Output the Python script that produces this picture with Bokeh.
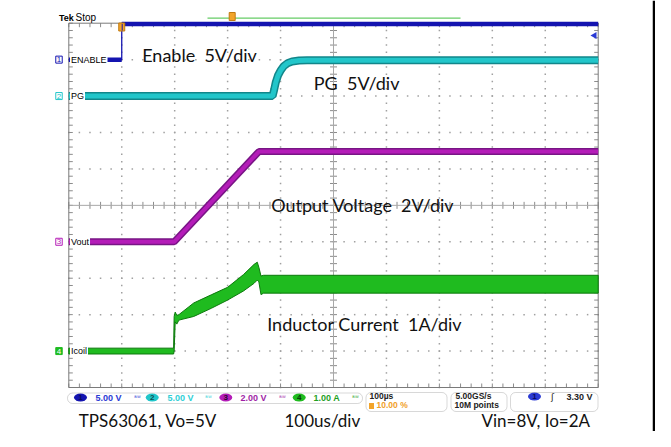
import numpy as np
from bokeh.plotting import figure
from bokeh.models import Range1d, Label, BoxAnnotation
from bokeh.core.properties import value
from bokeh.embed import file_html
from bokeh.resources import INLINE

# ---------------- data ----------------
channels = ["1", "2", "3", "4"]
ch_labels = ["ENABLE", "PG", "Vout", "Icoil"]
ch_scale = [5.0, 5.0, 2.0, 1.0]          # units per division
ch_unit = ["V", "V", "V", "A"]
ch_offset = [4.0, 3.0, -1.0, -4.0]       # ground marker, divisions from centre
ch_color = ["#1414b0", "#22c6ca", "#b41cb8", "#1fbb1f"]
ch_dark = ["#0a0a80", "#12868a", "#781585", "#0c780c"]
ch_text = ["#2a3ad4", "#30cfd6", "#a01fa6", "#1f9f1f"]

time_per_div_us = 100
trigger_pos_pct = 10.0
trigger_level_v = 3.30
timebase_txt = "100\u00b5s"
sample_rate = "5.00GS/s"
record_len = "10M points"

enable_t = [-100, 0, 0, 900]
enable_v = [0.0, 0.0, 4.9, 4.9]

pg_t = [-100, 285, 288, 291, 295, 300, 306, 313, 322, 335, 350, 900]
pg_v = [0.0, 0.0, 0.9, 1.9, 2.8, 3.5, 4.1, 4.5, 4.75, 4.88, 4.92, 4.92]

vout_t = [-100, 99, 259, 900]
vout_v = [0.0, 0.0, 4.95, 4.95]

il_t = [-100, 98, 99, 101, 104, 108, 136, 170, 200, 230, 250, 256, 259, 263, 268, 900]
il_hi = [0.08, 0.08, 0.95, 1.07, 0.98, 1.00, 1.32, 1.55, 1.75, 2.10, 2.38, 2.44, 2.30, 2.06, 2.08, 2.08]
il_lo = [-0.08, -0.08, 0.0, 0.80, 0.74, 0.85, 0.95, 1.18, 1.40, 1.65, 1.86, 1.95, 1.90, 1.55, 1.59, 1.59]

annotations = ["Enable\u00a0\u00a05V/div", "PG\u00a0\u00a05V/div", "Output Voltage\u00a0\u00a02V/div",
               "Inductor Current\u00a0\u00a01A/div"]
captions = ["TPS63061, Vo=5V", "100us/div", "Vin=8V, Io=2A"]

# ---------------- layout ----------------
W, H, M = 655, 431, 0
SL, SR, ST, SB = 68.3, 597.7, 22.7, 387.0
NX, NY, SUB = 10, 10, 5
dx = (SR - SL) / NX
dy = (SB - ST) / NY
yc = (ST + SB) / 2
t_left = -trigger_pos_pct / 100 * NX * time_per_div_us
t_right = t_left + NX * time_per_div_us
t_mid = (t_left + t_right) / 2


def X(px):
    return t_left + (px - SL) / dx * time_per_div_us


def Y(py):
    return (yc - py) / dy


def DX(n):
    return n / dx * time_per_div_us


def DY(n):
    return n / dy


p = figure(width=W, height=H, x_range=Range1d(X(M), X(M + W)), y_range=Range1d(Y(M + H), Y(M)),
           output_backend="svg", toolbar_location=None, x_axis_type=None, y_axis_type=None,
           min_border=0, outline_line_color=None)
p.background_fill_color = "white"
p.border_fill_color = "white"

# grid dots
dots_x, dots_y = [], []
for k in range(1, NX):
    if k == NX // 2:
        continue
    for j in range(NY * SUB + 1):
        dots_x.append(t_left + k * time_per_div_us)
        dots_y.append(-NY / 2 + j / SUB)
for k in range(1, NY):
    if k == NY // 2:
        continue
    for j in range(NX * SUB + 1):
        dots_x.append(t_left + j / SUB * time_per_div_us)
        dots_y.append(-NY / 2 + k)
p.scatter(dots_x, dots_y, marker="square", size=1.5, fill_color="#a0a0a0", line_color=None)

# ticks (frame edges + centre cross)
x0, y0, x1, y1 = [], [], [], []
for j in range(NY * SUB + 1):
    yy = -NY / 2 + j / SUB
    x0 += [t_left, t_right, t_mid - DX(3.5)]
    x1 += [t_left + DX(4), t_right - DX(4), t_mid + DX(3.5)]
    y0 += [yy, yy, yy]
    y1 += [yy, yy, yy]
for j in range(NX * SUB + 1):
    xx = t_left + j / SUB * time_per_div_us
    x0 += [xx, xx, xx]
    x1 += [xx, xx, xx]
    y0 += [-NY / 2, NY / 2, -DY(3.5)]
    y1 += [-NY / 2 + DY(4), NY / 2 - DY(4), DY(3.5)]
p.segment(x0, y0, x1, y1, line_color="#8c8c8c", line_width=1)
p.segment([t_mid, t_left], [-NY / 2, 0], [t_mid, t_right], [NY / 2, 0], line_color="#a8a8a8", line_width=1)
p.quad(left=[t_left], right=[t_right], bottom=[-NY / 2], top=[NY / 2], fill_color=None,
       line_color="#7a7a7a", line_width=1)


def to_div(vals, ch):
    return [ch_offset[ch] + v / ch_scale[ch] for v in vals]


def split_edges(t, y):
    xs, ys = [], []
    for i in range(len(t)):
        if i > 0 and t[i] == t[i - 1]:
            xs.append(np.nan)
            ys.append(np.nan)
        xs.append(t[i])
        ys.append(y[i])
    return xs, ys


# Ch1 enable
ey = to_div(enable_v, 0)
p.line(enable_t, ey, line_color=ch_color[0], line_width=1.3)
sx, sy = split_edges(enable_t, ey)
p.line(sx, sy, line_color=ch_color[0], line_width=4.5)

# Ch2 PG
py_ = to_div(pg_v, 1)
p.line(pg_t, py_, line_color=ch_dark[1], line_width=8)
p.line(pg_t, py_, line_color=ch_color[1], line_width=5)

# Ch3 Vout
vy = to_div(vout_v, 2)
p.line(vout_t, vy, line_color=ch_dark[2], line_width=7)
p.line(vout_t, vy, line_color=ch_color[2], line_width=4)

# Ch4 inductor current band
hi = to_div(il_hi, 3)
lo = to_div(il_lo, 3)
p.patch(il_t + il_t[::-1], hi + lo[::-1], fill_color=ch_color[3], line_color=ch_dark[3], line_width=1)

# trigger level arrow and trigger position markers
p.scatter([X(594)], [ch_offset[0] + trigger_level_v / ch_scale[0]], marker="triangle", angle=np.pi / 2,
          size=7, fill_color="#2a3ad4", line_color=None)
p.segment([X(207)], [Y(17.7)], [X(460)], [Y(17.7)], line_color="#66cc66", line_width=1.2)
p.rect([X(231.7), 0], [Y(16), Y(26.5)], width=6, height=8, width_units="screen", height_units="screen",
       fill_color="#f2a42a", line_color="#c07a10")
p.segment([X(121.7)], [Y(30)], [X(121.7)], [ch_offset[0] + enable_v[-1] / ch_scale[0]],
          line_color=ch_color[0], line_width=1)

MID = dict(text_baseline="middle")

# in-plot annotations
p.text([X(141.7), X(313.3), X(270.7), X(266.7)], [Y(54.7), Y(82.8), Y(204), Y(323.5)], text=annotations,
       text_font=value("Lato"), text_font_size="18px", text_color="#111111", **MID)

# channel markers
for i in range(4):
    filled = i == 3
    p.add_layout(Label(x=X(58.5), y=ch_offset[i], text=channels[i], text_font="Liberation Sans",
                       text_font_size="8px", text_baseline="middle", text_align="center",
                       text_color="white" if filled else ch_color[i],
                       background_fill_color=ch_color[i] if filled else "white",
                       border_line_color=ch_color[i], padding=1))
    p.add_layout(Label(x=X(69.5), y=ch_offset[i], text=ch_labels[i], text_font="Liberation Sans",
                       text_font_size="9px", text_baseline="middle", text_align="left", text_color="black",
                       background_fill_color="white", padding=1))

# Tek Stop
p.text([X(58.5)], [Y(17.2)], text=["Tek"], text_font=value("Liberation Sans"), text_font_style="bold",
       text_font_size="9px", **MID)
p.text([X(75)], [Y(17.2)], text=["Stop"], text_font=value("Liberation Sans"),
       text_font_size="10px", **MID)

# status bar boxes
for (l, r, t, b) in [(67, 362, 392.5, 403), (365.5, 446.5, 392, 411), (450.5, 506.5, 392, 411),
                     (510, 597.5, 392, 411)]:
    p.add_layout(BoxAnnotation(left=X(l), right=X(r), top=Y(t), bottom=Y(b), fill_alpha=0,
                               line_color="#7f7f7f", line_width=1, border_radius=5))

ell_x = [X(80), X(151.7), X(225.3), X(298.7), X(534)]
ell_y = [Y(397)] * 4 + [Y(396)]
p.ellipse(ell_x, ell_y, width=13, height=8, width_units="screen", height_units="screen",
          fill_color=ch_color + [ch_text[0]], line_color=None)
p.text(ell_x, ell_y, text=channels + ["1"], text_font=value("Liberation Sans"), text_font_style="bold",
       text_font_size="8px", text_align="center", text_baseline="middle",
       text_color=["#0a0a60", "#0c4f52", "#2a0530", "#063806", "#0a0a60"])

vals = [f"{ch_scale[i]:.2f} {ch_unit[i]}" for i in range(4)]
p.text([X(95), X(167), X(240), X(313)], [Y(397)] * 4, text=vals, text_font=value("Liberation Sans"),
       text_font_style="bold", text_font_size="9px", text_color=ch_text, **MID)
p.text([X(137), X(208), X(282), X(355)], [Y(397)] * 4, text=["\u1d2e\u1d42"] * 4,
       text_font=value("DejaVu Sans"), text_font_size="6px", text_align="center",
       text_color=ch_text, **MID)

p.text([X(369)], [Y(395.8)], text=[timebase_txt], text_font=value("Liberation Sans"), text_font_style="bold",
       text_font_size="8.5px", text_color="#222222", **MID)
p.rect([X(371)], [Y(405.5)], width=5, height=6, width_units="screen", height_units="screen",
       fill_color="#f2a42a", line_color=None)
p.text([X(376)], [Y(404.5)], text=[f"{trigger_pos_pct:.2f} %"], text_font=value("Liberation Sans"),
       text_font_style="bold", text_font_size="8.5px", text_color="#f0a028", **MID)
p.text([X(455), X(454)], [Y(395.8), Y(404.5)], text=[sample_rate, record_len],
       text_font=value("Liberation Sans"), text_font_style="bold", text_font_size="8.5px",
       text_color="#222222", **MID)
p.text([X(552)], [Y(396.5)], text=["\u0283"], text_font=value("DejaVu Sans"), text_font_size="9px",
       text_align="center", text_color="#222222", **MID)
p.text([X(566)], [Y(396.5)], text=[f"{trigger_level_v:.2f} V"], text_font=value("Liberation Sans"),
       text_font_style="bold", text_font_size="9px", text_color="#222222", **MID)

# captions (raised slightly so they fit the canvas)
p.text([X(78.3), X(284), X(481)], [Y(420)] * 3, text=captions, text_font=value("Lato"),
       text_font_size="17px", text_color="#111111", **MID)

# right border line (at the canvas edge)
p.segment([X(W - 1.5)], [Y(M)], [X(W - 1.5)], [Y(M + H)], line_color="black", line_width=2.5)

open("out.html", "w").write(file_html(p, INLINE))
